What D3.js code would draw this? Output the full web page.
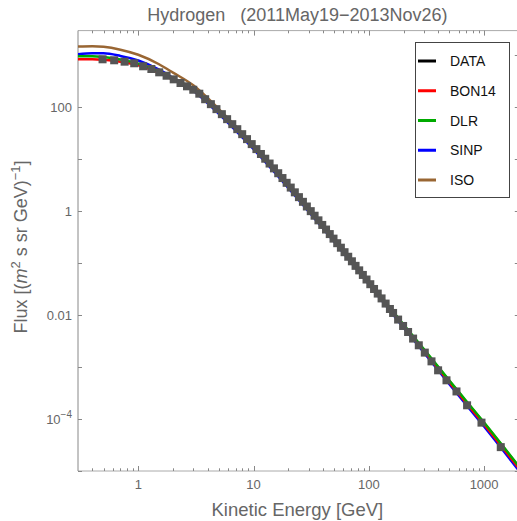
<!DOCTYPE html>
<html><head><meta charset="utf-8">
<script src="https://cdn.jsdelivr.net/npm/d3@7"></script>
<style>body{margin:0;background:#fff}svg{display:block}text{font-family:"Liberation Sans",Arial,sans-serif}</style>
</head><body>
<script>
// ---- data ----
const energy = [0.49,0.618,0.761,0.922,1.102,1.299,1.519,1.761,2.03,2.325,2.647,3.0,3.384,3.804,4.265,4.767,5.311,5.899,6.538,7.227,7.972,8.777,9.643,10.59,11.59,12.63,13.78,15.03,16.37,17.82,19.37,21.02,22.81,24.76,26.81,29.0,31.35,33.85,36.55,39.44,42.54,45.84,49.39,53.18,57.23,61.58,66.27,71.32,76.72,82.51,88.76,95.5,103.0,111.0,119.5,129.0,139.9,152.4,162.4,179.5,198.3,219.1,242.1,271.3,305.9,349.7,399,471.8,576.1,711.9,949.1,1395];
const flux = [841,805,757,705,617,547,472,406,346,294,254,218,183,143.3,115.1,92.3,73.9,59.2,47.45,37.98,30.45,24.43,19.6,15.7,12.65,10.26,8.285,6.687,5.392,4.355,3.523,2.856,2.312,1.868,1.518,1.234,1.004,0.820,0.668,0.545,0.4444,0.3634,0.2970,0.2427,0.1988,0.1628,0.1330,0.1088,0.0889,0.0728,0.0594,0.0485,0.0394,0.0319,0.0260,0.0210,0.0167,0.01314,0.01102,0.00822,0.00619,0.00474,0.00354,0.00263,0.00190,0.00129,0.000867,0.000557,0.000340,0.000184,0.0000853,0.0000288];

const modelEnergy = [0.3,0.4,0.5,0.7,1,1.5,2,3,5,7,10,20,30,50,100,200,300,500,1000,2000];
const bon14 = [841,845,826,755,641,461,343,213,82.5,40.3,17.78,3.206,1.119,0.2851,0.04271,0.006209,0.002061,0.0005064,0.00007852,0.0000113];
const dlr   = [966,966,933,832,695,494,361,220.8,84.64,41.25,18.19,3.281,1.142,0.2937,0.04524,0.006607,0.002223,0.0005489,0.00008551,0.00001233];
const sinp  = [1047,1096,1096,977,798,536,369,208.4,74.6,35.5,15.66,2.825,0.9947,0.2588,0.0394,0.005754,0.001914,0.0004671,0.00007194,0.00001026];
const iso   = [1479,1496,1462,1288,1028,682,467,265,92.8,43.6,18.8,3.357,1.169,0.2971,0.04452,0.006457,0.002163,0.0005364,0.00008414,0.00001213];

const legendNames = ["DATA","BON14","DLR","SINP","ISO"];
const legendColors = ["#000000","#ff0000","#00aa00","#0000ff","#996633"];
const xTickValues = [1,10,100,1000];
const yLabelValues = [100,1,0.01,1e-4];
const titleText = "Hydrogen   (2011May19\u22122013Nov26)";

// ---- layout ----
const W = 517, H = 521;
const L = 78, R = 518.8, T = 30.6, B = 471;
const svg = d3.select("body").append("svg").attr("width", W).attr("height", H);
const x = d3.scaleLog().domain([0.3, 2000]).range([L, R]);
const y = d3.scaleLog().domain([1e-5, 3000]).range([B, T]);
const gray = "#666";

svg.append("defs").append("clipPath").attr("id","clip")
  .append("rect").attr("x",L).attr("y",T).attr("width",R-L).attr("height",B-T);

// frame
const fr = svg.append("g");
fr.append("line").attr("x1",L).attr("x2",R).attr("y1",T).attr("y2",T).attr("stroke","#aaa");
fr.append("line").attr("x1",L).attr("x2",R).attr("y1",B).attr("y2",B).attr("stroke","#aaa");
fr.append("line").attr("x1",L).attr("x2",L).attr("y1",T).attr("y2",B).attr("stroke","#888");
fr.append("line").attr("x1",R).attr("x2",R).attr("y1",T).attr("y2",B).attr("stroke","#aaa");

// x ticks
const xMinor = [];
for (let d = 0.1; d <= 1000; d *= 10) for (let k = 1; k <= 9; k++) { const v = +(k*d).toPrecision(3); if (v > 0.3 && v < 2000) xMinor.push(v); }
xMinor.forEach(v => {
  const major = xTickValues.includes(v);
  const len = major ? 5 : 2.7;
  const px = Math.round(x(v)) + 0.5;
  svg.append("line").attr("x1",px).attr("x2",px).attr("y1",B).attr("y2",B-len).attr("stroke","#888");
  svg.append("line").attr("x1",px).attr("x2",px).attr("y1",T).attr("y2",T+len).attr("stroke","#888");
});
xTickValues.forEach(v => {
  svg.append("text").attr("x", x(v)).attr("y", 489).attr("text-anchor","middle")
    .attr("font-size",13).attr("fill",gray).text(d3.format("d")(v));
});

// y ticks
for (let e = -5; e <= 3; e++) {
  const py = Math.round(y(Math.pow(10,e))) + 0.5;
  svg.append("line").attr("x1",L).attr("x2",L+4).attr("y1",py).attr("y2",py).attr("stroke","#888");
  svg.append("line").attr("x1",R-4).attr("x2",R).attr("y1",py).attr("y2",py).attr("stroke","#888");
}
yLabelValues.forEach(v => {
  const t = svg.append("text").attr("x", 72).attr("y", y(v)+4.5).attr("text-anchor","end")
    .attr("font-size",13).attr("fill",gray);
  if (v >= 0.01) t.text(v >= 1 ? String(v) : "0.01");
  else { t.append("tspan").text("10"); t.append("tspan").attr("dy",-6).attr("font-size",10).text("\u22124"); }
});

// curves
const plot = svg.append("g").attr("clip-path","url(#clip)");
const line = d3.line().x(d => x(d[0])).y(d => y(d[1])).curve(d3.curveMonotoneX);
const series = [[iso,"#996633"],[sinp,"#0000ff"],[bon14,"#ff0000"],[dlr,"#00aa00"]];
series.forEach(([vals,col]) => {
  plot.append("path").datum(modelEnergy.map((e,i)=>[e, vals[i]]))
    .attr("d", line).attr("fill","none").attr("stroke",col).attr("stroke-width",2.5);
});

// data markers
plot.selectAll("rect.pt").data(energy.map((e,i)=>[e,flux[i]])).enter().append("rect")
  .attr("class","pt").attr("x", d => x(d[0]) - 4).attr("y", d => y(d[1]) - 4)
  .attr("width",8).attr("height",8).attr("fill","#555");

// title
svg.append("text").attr("x", (L+R)/2 - 1).attr("y", 21).attr("text-anchor","middle")
  .attr("font-size",18).attr("fill",gray).style("white-space","pre").text(titleText);

// x label
svg.append("text").attr("x", (L+R)/2 - 1).attr("y", 516).attr("text-anchor","middle")
  .attr("font-size",18.5).attr("fill",gray).text("Kinetic Energy [GeV]");

// y label
const yl = svg.append("text").attr("transform","translate(27,247) rotate(-90)")
  .attr("text-anchor","middle").attr("font-size",18).attr("fill",gray);
yl.append("tspan").text("Flux [(");
yl.append("tspan").attr("font-style","italic").text("m");
yl.append("tspan").attr("dy",-7).attr("font-size",13).text("2");
yl.append("tspan").attr("dy",7).text(" s sr GeV)");
yl.append("tspan").attr("dy",-7).attr("font-size",13).text("\u22121");
yl.append("tspan").attr("dy",7).text("]");

// legend
const lg = svg.append("g");
lg.append("rect").attr("x",415.5).attr("y",42.5).attr("width",94).attr("height",155)
  .attr("fill","#fff").attr("stroke","#444").attr("stroke-width",1);
legendNames.forEach((n,i) => {
  const ly = 61 + i*29.75;
  lg.append("line").attr("x1",418).attr("x2",436).attr("y1",ly).attr("y2",ly)
    .attr("stroke",legendColors[i]).attr("stroke-width",3);
  lg.append("text").attr("x",450).attr("y",ly+5).attr("font-size",14).attr("fill","#111").text(n);
});
</script>
</body></html>
